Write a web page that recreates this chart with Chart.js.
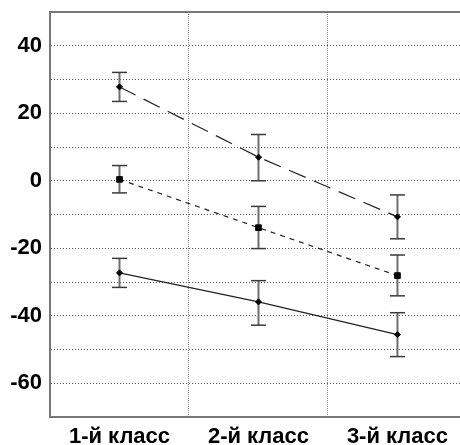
<!DOCTYPE html>
<html>
<head>
<meta charset="utf-8">
<script src="https://cdn.jsdelivr.net/npm/chart.js@4/dist/chart.umd.min.js"></script>
<style>
  html, body { margin: 0; padding: 0; background: #fff; overflow: hidden; }
  #wrap { width: 460px; height: 445px; }
</style>
</head>
<body>
<div id="wrap"><canvas id="c"></canvas></div>
<script>
const categories = ['1-й класс', '2-й класс', '3-й класс'];

// series 1: long dashes
const meanA = [27.8, 7.0, -10.7];
const upA = [32.1, 13.7, -4.2];
const loA = [23.5, 0.0, -17.2];

// series 2: short dashes, square markers
const meanB = [0.4, -13.9, -28.1];
const upB = [4.5, -7.6, -22.0];
const loB = [-3.6, -20.1, -34.1];

// series 3: solid
const meanC = [-27.3, -35.9, -45.6];
const upC = [-23.0, -29.6, -39.1];
const loC = [-31.6, -42.8, -52.1];

const yMin = -70, yMax = 50;
const yLabels = [40, 20, 0, -20, -40, -60];
const xTicks = [0.5, 1, 1.5, 2, 2.5, 3];

function pts(arr) { return arr.map((v, i) => ({ x: i + 1, y: v })); }

function errSets(up, lo) {
  return up.map((u, i) => ({
    type: 'line',
    data: [{ x: i + 1, y: lo[i] }, { x: i + 1, y: u }],
    borderColor: '#6e6e6e',
    borderWidth: 2,
    pointStyle: 'line',
    pointRadius: 7.5,
    pointBorderWidth: 1.5,
    pointBorderColor: '#3a3a3a',
    order: 2
  }));
}

function seriesSet(data, dash, style, radius) {
  return {
    type: 'line',
    data: pts(data),
    borderColor: '#222',
    borderWidth: 1.2,
    borderDash: dash,
    pointStyle: style,
    pointRadius: radius,
    pointBackgroundColor: '#000',
    pointBorderColor: '#000',
    pointBorderWidth: 1,
    order: 0
  };
}

const datasets = [
  ...errSets(upA, loA),
  ...errSets(upB, loB),
  ...errSets(upC, loC),
  seriesSet(meanA, [18, 9], 'rectRot', 3),
  seriesSet(meanB, [5, 5], 'rect', 4),
  seriesSet(meanC, [], 'rectRot', 3)
];

const tickFont = { family: '"Liberation Sans", Arial, sans-serif', size: 22, weight: 'bold' };

function noPad(s) {
  s.paddingLeft = 0; s.paddingRight = 0; s.paddingTop = 0; s.paddingBottom = 0;
}

new Chart(document.getElementById('c'), {
  type: 'line',
  data: { datasets },
  options: {
    responsive: true,
    maintainAspectRatio: false,
    animation: false,
    layout: { autoPadding: false, padding: { top: 11, right: 0, left: 0, bottom: 0 } },
    plugins: { legend: { display: false }, tooltip: { enabled: false } },
    scales: {
      x: {
        type: 'linear',
        min: 0.5,
        max: 3.45,
        afterBuildTicks: s => { s.ticks = xTicks.map(v => ({ value: v })); },
        afterFit: s => { s.height = 28; noPad(s); },
        ticks: {
          autoSkip: false,
          maxRotation: 0,
          padding: 7,
          color: '#000',
          font: tickFont,
          callback: v => Number.isInteger(v) ? categories[v - 1] : ''
        },
        grid: {
          drawTicks: false,
          color: c => (c.tick && c.tick.value % 1 === 0.5 && c.tick.value > 0.5) ? '#8a8a8a' : 'transparent',
          lineWidth: 1
        },
        border: { display: true, color: '#777', width: 2, dash: [1, 1] }
      },
      x2: {
        type: 'linear',
        position: 'top',
        min: 0.5,
        max: 3.45,
        afterFit: s => { s.height = 1; noPad(s); },
        ticks: { display: false },
        grid: { display: false, drawTicks: false },
        border: { display: true, color: '#777', width: 2 }
      },
      y: {
        min: yMin,
        max: yMax,
        afterBuildTicks: s => {
          const t = [];
          for (let v = yMin; v <= yMax; v += 10) t.push({ value: v });
          s.ticks = t;
        },
        afterFit: s => { s.width = 50; noPad(s); },
        ticks: {
          padding: 8,
          color: '#000',
          font: tickFont,
          callback: v => yLabels.includes(v) ? String(v) : ''
        },
        grid: {
          drawTicks: false,
          color: c => (c.tick && (c.tick.value === yMin || c.tick.value === yMax)) ? 'transparent' : '#555',
          lineWidth: 1
        },
        border: { display: true, color: '#777', width: 2, dash: [1, 2] }
      }
    }
  }
});
</script>
</body>
</html>
